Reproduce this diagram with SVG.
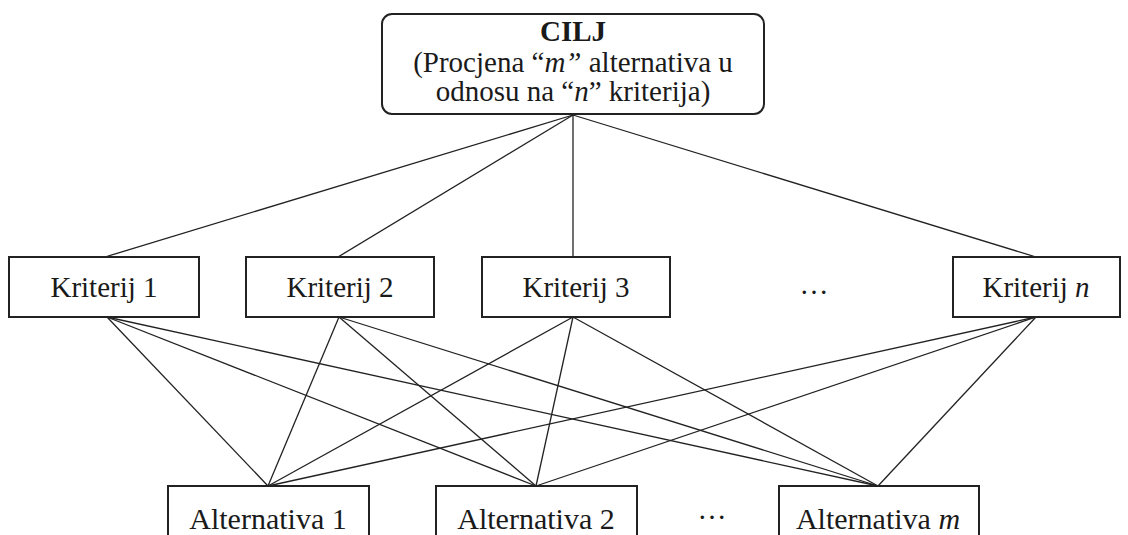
<svg xmlns="http://www.w3.org/2000/svg" width="1128" height="535" viewBox="0 0 1128 535">
<style>
.box{fill:#fff;stroke:#222;stroke-width:2}
.t{font-family:"Liberation Serif","Times New Roman",serif;font-size:29px;fill:#1a1a1a;text-anchor:middle}
.a{font-size:30px}
.b{font-weight:bold}
.i{font-style:italic}
.c line{stroke:#222;stroke-width:1.3}
</style>
<rect width="1128" height="535" fill="#fff"/>
<g class="c" id="connectors">
<line x1="573" y1="115" x2="105" y2="257"/>
<line x1="573" y1="115" x2="338" y2="257"/>
<line x1="573" y1="115" x2="573" y2="257"/>
<line x1="573" y1="115" x2="1036" y2="257"/>
<line x1="107" y1="317" x2="268" y2="486"/>
<line x1="107" y1="317" x2="536" y2="486"/>
<line x1="107" y1="317" x2="878" y2="486"/>
<line x1="339" y1="317" x2="268" y2="486"/>
<line x1="339" y1="317" x2="536" y2="486"/>
<line x1="339" y1="317" x2="878" y2="486"/>
<line x1="573" y1="317" x2="268" y2="486"/>
<line x1="573" y1="317" x2="536" y2="486"/>
<line x1="573" y1="317" x2="878" y2="486"/>
<line x1="1036" y1="317" x2="268" y2="486"/>
<line x1="1036" y1="317" x2="536" y2="486"/>
<line x1="1036" y1="317" x2="878" y2="486"/>
</g>
<g id="cilj">
<rect class="box" x="382" y="14" width="382" height="100" rx="10"/>
<text class="t b" x="573" y="41">CILJ</text>
<text class="t" x="573" y="72">(Procjena “<tspan class="i">m”</tspan> alternativa u</text>
<text class="t" x="573" y="101">odnosu na “<tspan class="i">n</tspan>” kriterija)</text>
</g>
<g id="k1"><rect class="box" x="9" y="257" width="190" height="60"/><text class="t" x="104" y="297">Kriterij 1</text></g>
<g id="k2"><rect class="box" x="246" y="257" width="188" height="60"/><text class="t" x="340" y="297">Kriterij 2</text></g>
<g id="k3"><rect class="box" x="482" y="257" width="188" height="60"/><text class="t" x="576" y="297">Kriterij 3</text></g>
<g id="kdots"><text class="t" x="814" y="294">…</text></g>
<g id="kn"><rect class="box" x="953" y="257" width="167" height="60"/><text class="t" x="1036" y="297">Kriterij <tspan class="i">n</tspan></text></g>
<g id="a1"><rect class="box" x="168" y="486" width="201" height="60"/><text class="t a" x="268" y="529">Alternativa 1</text></g>
<g id="a2"><rect class="box" x="436" y="486" width="201" height="60"/><text class="t a" x="536" y="529">Alternativa 2</text></g>
<g id="adots"><text class="t" x="712" y="519">…</text></g>
<g id="am"><rect class="box" x="779" y="486" width="200" height="60"/><text class="t a" x="878" y="529">Alternativa <tspan class="i">m</tspan></text></g>
</svg>
